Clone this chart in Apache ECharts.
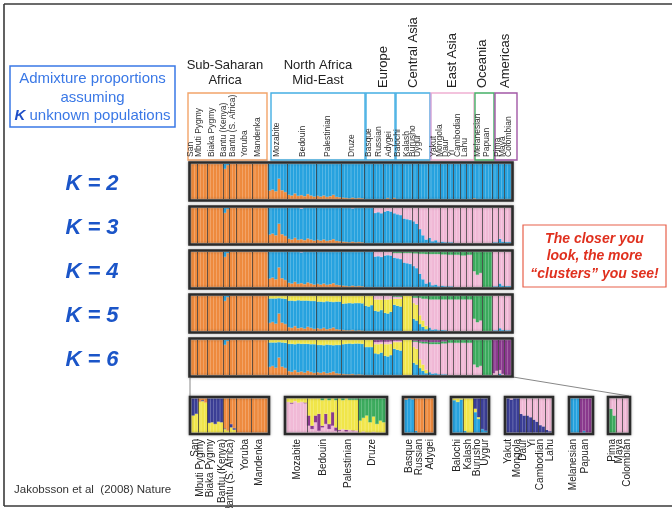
<!DOCTYPE html>
<html>
<head>
<meta charset="utf-8">
<script src="https://cdn.jsdelivr.net/npm/echarts@6/dist/echarts.min.js"></script>
<style>html,body{margin:0;padding:0;background:#fff}#chart{width:672px;height:508px}</style>
</head>
<body>
<div id="chart"></div>
<script>
var orange='#EE8A3E', blue='#27A2DF', yellow='#F1E64A', pink='#F1B9D6', green='#3CAB5E', purple='#8A3A8E', navy='#3B3E96';
var FONT = '"Liberation Sans", Arial, sans-serif';

// populations, left to right, and how many bar columns each one gets
var pops = ['San','Mbuti Pygmy','Biaka Pygmy','Bantu (Kenya)','Bantu (S. Africa)','Yoruba','Mandenka',
  'Mozabite','Bedouin','Palestinian','Druze',
  'Basque','Russian','Adygei',
  'Balochi','Kalash','Burusho','Uygur',
  'Yakut','Mongola','Daur','Yi','Cambodian','Lahu',
  'Melanesian','Papuan',
  'Pima','Maya','Colombian'];
var popCols = [2,3,5,2,2,5,5, 6,9,8,7, 3,3,3, 3,3,2,3, 4,2,2,2,2,2, 3,3, 2,2,2];
var regions = ['Sub-Saharan\nAfrica','North Africa\nMid-East','Europe','Central Asia','East Asia','Oceania','Americas'];
var kLabels = ['K = 2','K = 3','K = 4','K = 5','K = 6'];

// admixture proportions, run-length: [columns, share of each cluster...]
// K=2: orange, blue
var k2 = [
  [10,1,0],
  [1,.86,.14],[1,.97,.03],
  [12,1,0],
  [1,.24,.76],[1,.27,.73],[1,.22,.78],[1,.58,.42],[1,.25,.75],[1,.2,.8],
  [1,.12,.88],[1,.1,.9],[1,.16,.84],[1,.09,.91],[1,.11,.89],[1,.08,.92],[1,.14,.86],[1,.1,.9],[1,.07,.93],
  [1,.09,.91],[1,.07,.93],[1,.1,.9],[1,.06,.94],[1,.08,.92],[1,.12,.88],[1,.06,.94],[1,.05,.95],
  [1,.04,.96],[1,.03,.97],[1,.02,.98],[1,.04,.96],[1,.02,.98],[1,.03,.97],[1,.02,.98],
  [7,0,1],[1,.03,.97],[1,0,1],
  [1,.03,.97],[10,0,1],
  [14,0,1],
  [1,.02,.98],[5,0,1],
  [6,0,1]
];
// K=3: orange, blue, pink
var k3 = [
  [10,1,0,0],
  [1,.86,.14,0],[1,.97,.03,0],
  [12,1,0,0],
  [1,.24,.76,0],[1,.27,.73,0],[1,.22,.78,0],[1,.55,.45,0],[1,.25,.75,0],[1,.2,.8,0],
  [1,.12,.88,0],[1,.1,.9,0],[1,.15,.85,0],[1,.09,.91,0],[1,.11,.87,.02],[1,.08,.92,0],[1,.13,.87,0],[1,.1,.9,0],[1,.07,.93,0],
  [1,.09,.91,0],[1,.07,.93,0],[1,.1,.9,0],[1,.06,.94,0],[1,.08,.92,0],[1,.11,.89,0],[1,.06,.94,0],[1,.05,.95,0],
  [1,.04,.96,0],[1,.03,.97,0],[1,.02,.98,0],[1,.04,.95,.01],[1,.02,.98,0],[1,.03,.97,0],[1,.02,.98,0],
  [3,0,1,0],
  [1,0,.86,.14],[1,0,.88,.12],[1,0,.85,.15],
  [1,0,.9,.1],[1,0,.92,.08],[1,0,.9,.1],
  [1,0,.85,.15],[1,0,.82,.18],[1,0,.8,.2],
  [1,0,.7,.3],[1,0,.68,.32],[1,0,.66,.34],
  [1,0,.62,.38],[1,0,.55,.45],
  [1,0,.4,.6],[1,0,.22,.78],[1,0,.1,.9],
  [1,0,.15,.85],[1,0,.05,.95],[1,0,.08,.92],[1,0,.02,.98],
  [1,0,.04,.96],[1,0,.02,.98],
  [2,0,.02,.98],[6,0,0,1],
  [6,0,0,1],
  [2,0,.02,.98],[1,0,.12,.88],[1,0,.04,.96],[2,0,.03,.97]
];
// K=4: orange, blue, pink, green
var k4 = [
  [10,1,0,0,0],
  [1,.86,.14,0,0],[1,.97,.03,0,0],
  [12,1,0,0,0],
  [1,.24,.76,0,0],[1,.27,.73,0,0],[1,.22,.78,0,0],[1,.56,.44,0,0],[1,.25,.75,0,0],[1,.2,.8,0,0],
  [1,.12,.88,0,0],[1,.1,.9,0,0],[1,.15,.85,0,0],[1,.09,.91,0,0],[1,.11,.88,.01,0],[1,.08,.92,0,0],[1,.13,.87,0,0],[1,.1,.9,0,0],[1,.07,.93,0,0],
  [1,.09,.91,0,0],[1,.07,.93,0,0],[1,.1,.9,0,0],[1,.06,.94,0,0],[1,.08,.92,0,0],[1,.11,.89,0,0],[1,.06,.94,0,0],[1,.05,.95,0,0],
  [1,.04,.96,0,0],[1,.03,.97,0,0],[1,.02,.98,0,0],[1,.04,.96,0,0],[1,.02,.98,0,0],[1,.03,.97,0,0],[1,.02,.98,0,0],
  [3,0,1,0,0],
  [1,0,.87,.13,0],[1,0,.88,.12,0],[1,0,.86,.14,0],
  [1,0,.9,.1,0],[1,0,.91,.09,0],[1,0,.9,.1,0],
  [1,0,.84,.13,.03],[1,0,.82,.15,.03],[1,0,.8,.17,.03],
  [1,0,.7,.27,.03],[1,0,.68,.29,.03],[1,0,.66,.31,.03],
  [1,0,.6,.36,.04],[1,0,.54,.42,.04],
  [1,0,.38,.57,.05],[1,0,.22,.73,.05],[1,0,.1,.84,.06],
  [1,0,.14,.8,.06],[1,0,.05,.89,.06],[1,0,.07,.87,.06],[1,0,.02,.92,.06],
  [1,0,.04,.89,.07],[1,0,.02,.91,.07],
  [2,0,.02,.9,.08],
  [2,0,0,.92,.08],
  [2,0,0,.9,.1],
  [2,0,0,.92,.08],
  [1,0,0,.45,.55],[1,0,0,.35,.65],[1,0,0,.4,.6],
  [3,0,0,0,1],
  [2,0,.02,.98,0],[1,0,.1,.9,0],[1,0,.04,.96,0],[2,0,.03,.97,0]
];
// K=5: orange, blue, yellow, pink, green
var k5 = [
  [10,1,0,0,0,0],
  [1,.86,.14,0,0,0],[1,.97,.03,0,0,0],
  [12,1,0,0,0,0],
  [1,.23,.7,.07,0,0],[1,.26,.67,.07,0,0],[1,.21,.72,.07,0,0],[1,.5,.44,.06,0,0],[1,.24,.69,.07,0,0],[1,.2,.72,.08,0,0],
  [1,.11,.76,.13,0,0],[1,.09,.78,.13,0,0],[1,.14,.72,.14,0,0],[1,.08,.8,.12,0,0],[1,.1,.77,.13,0,0],[1,.07,.8,.13,0,0],[1,.12,.75,.13,0,0],[1,.09,.77,.14,0,0],[1,.06,.8,.14,0,0],
  [1,.08,.76,.16,0,0],[1,.06,.78,.16,0,0],[1,.09,.74,.17,0,0],[1,.05,.8,.15,0,0],[1,.07,.77,.16,0,0],[1,.1,.73,.17,0,0],[1,.05,.79,.16,0,0],[1,.04,.8,.16,0,0],
  [1,.03,.75,.22,0,0],[1,.02,.77,.21,0,0],[1,.02,.78,.2,0,0],[1,.03,.76,.21,0,0],[1,.01,.79,.2,0,0],[1,.02,.78,.2,0,0],[1,.01,.78,.21,0,0],
  [1,0,.72,.28,0,0],[1,0,.7,.3,0,0],[1,0,.74,.26,0,0],
  [1,0,.58,.32,.1,0],[1,0,.56,.34,.1,0],[1,0,.6,.3,.1,0],
  [1,0,.52,.38,.1,0],[1,0,.5,.4,.1,0],[1,0,.55,.36,.09,0],
  [1,0,.75,.17,.06,.02],[1,0,.72,.2,.06,.02],[1,0,.7,.22,.06,.02],
  [3,0,0,1,0,0],
  [1,0,.35,.45,.15,.05],[1,0,.3,.45,.2,.05],
  [1,0,.2,.25,.5,.05],[1,0,.12,.18,.62,.08],[1,0,.05,.1,.77,.08],
  [1,0,.1,0,.8,.1],[1,0,.04,0,.86,.1],[1,0,.05,0,.85,.1],[1,0,.02,0,.88,.1],
  [1,0,.03,0,.87,.1],[1,0,.02,0,.88,.1],
  [8,0,0,0,.9,.1],
  [1,0,0,0,.35,.65],[1,0,0,0,.25,.75],[1,0,0,0,.3,.7],
  [3,0,0,0,0,1],
  [2,0,.02,0,.98,0],[1,0,.08,0,.92,0],[1,0,.03,0,.97,0],[2,0,.02,0,.98,0]
];
// K=6: orange, blue, yellow, pink, green, purple
var k6 = [
  [10,1,0,0,0,0,0],
  [1,.86,.14,0,0,0,0],[1,.97,.03,0,0,0,0],
  [12,1,0,0,0,0,0],
  [1,.23,.7,.07,0,0,0],[1,.26,.67,.07,0,0,0],[1,.21,.72,.07,0,0,0],[1,.5,.44,.06,0,0,0],[1,.24,.69,.07,0,0,0],[1,.2,.72,.08,0,0,0],
  [1,.11,.78,.11,0,0,0],[1,.09,.8,.11,0,0,0],[1,.14,.74,.12,0,0,0],[1,.08,.82,.1,0,0,0],[1,.1,.79,.11,0,0,0],[1,.07,.82,.11,0,0,0],[1,.12,.77,.11,0,0,0],[1,.09,.79,.12,0,0,0],[1,.06,.82,.12,0,0,0],
  [1,.08,.78,.14,0,0,0],[1,.06,.8,.14,0,0,0],[1,.09,.76,.15,0,0,0],[1,.05,.82,.13,0,0,0],[1,.07,.79,.14,0,0,0],[1,.1,.75,.15,0,0,0],[1,.05,.81,.14,0,0,0],[1,.04,.82,.14,0,0,0],
  [1,.03,.85,.12,0,0,0],[1,.02,.87,.11,0,0,0],[1,.02,.88,.1,0,0,0],[1,.03,.86,.11,0,0,0],[1,.01,.89,.1,0,0,0],[1,.02,.88,.1,0,0,0],[1,.01,.88,.11,0,0,0],
  [3,0,.8,.2,0,0,0],
  [1,0,.62,.26,.06,0,.06],[1,0,.6,.28,.06,0,.06],[1,0,.64,.25,.06,0,.05],
  [1,0,.55,.33,.07,0,.05],[1,0,.53,.35,.07,0,.05],[1,0,.57,.32,.07,0,.04],
  [1,0,.75,.19,.04,0,.02],[1,0,.72,.22,.04,0,.02],[1,0,.7,.24,.04,0,.02],
  [3,0,0,1,0,0,0],
  [1,0,.35,.45,.15,.03,.02],[1,0,.3,.45,.2,.03,.02],
  [1,0,.2,.25,.47,.04,.04],[1,0,.12,.18,.6,.05,.05],[1,0,.05,.1,.75,.05,.05],
  [1,0,.08,0,.8,.06,.06],[1,0,.04,0,.84,.06,.06],[1,0,.05,0,.83,.06,.06],[1,0,.02,0,.86,.06,.06],
  [2,0,.02,0,.88,.06,.04],
  [8,0,0,0,.92,.08,0],
  [1,0,0,0,.3,.7,0],[1,0,0,0,.22,.78,0],[1,0,0,0,.26,.74,0],
  [3,0,0,0,0,1,0],
  [1,0,0,0,.05,0,.95],[1,0,0,0,.12,0,.88],[1,0,.04,0,.1,0,.86],[1,0,0,0,.03,0,.97],[2,0,0,0,0,0,1]
];

// close-up runs of the separate analyses
var afrNames = ['San','Mbuti Pygmy','Biaka Pygmy','Bantu (Kenya)','Bantu (S. Africa)','Yoruba','Mandenka'];
var afrCols = [2,3,5,2,2,5,5];
var afrSub = [ // yellow, navy, orange
  [1,.5,.5,0],[1,.55,.45,0],
  [1,.9,0,.1],[1,.92,.03,.05],[1,.88,0,.12],
  [1,.28,.72,0],[1,.3,.7,0],[1,.25,.75,0],[1,.32,.68,0],[1,.3,.7,0],
  [1,.1,.02,.88],[1,.05,0,.95],
  [1,.15,.1,.75],[1,.08,.05,.87],
  [10,0,0,1]
];
var meNames = ['Mozabite','Bedouin','Palestinian','Druze'];
var meCols = [6,9,6,8];
var meSub = [ // pink, purple, yellow, green
  [1,.9,0,.1,0],[1,.85,.03,.12,0],[1,.92,0,.08,0],[1,.88,0,.12,0],[1,.9,0,.1,0],[1,.86,.02,.12,0],
  [1,.2,.3,.5,0],[1,.1,.1,.8,0],[1,.3,.2,.5,0],[1,.05,.5,.45,0],[1,.15,.05,.75,.05],[1,.25,.3,.45,0],[1,.1,.15,.7,.05],[1,.2,.4,.4,0],[1,.05,.1,.8,.05],
  [1,.05,.03,.92,0],[1,.1,0,.85,.05],[1,.03,.05,.92,0],[1,.08,0,.88,.04],[1,.04,.02,.9,.04],[1,.06,0,.9,.04],
  [1,0,0,.35,.65],[1,.03,0,.4,.57],[1,0,0,.5,.5],[1,0,0,.3,.7],[1,.02,0,.45,.53],[1,0,0,.25,.75],[1,0,0,.35,.65],[1,0,0,.3,.7]
];
var euNames = ['Basque','Russian','Adygei'];
var euCols = [3,3,3];
var euSub = [ // blue, orange
  [1,.97,.03],[1,1,0],[1,.98,.02],
  [1,.05,.95],[5,0,1]
];
var caNames = ['Balochi','Kalash','Burusho','Uygur'];
var caCols = [3,3,2,2];
var caSub = [ // blue, yellow, navy
  [1,.95,.05,0],[1,.9,.1,0],[1,.97,.03,0],
  [1,.05,.95,0],[2,0,1,0],
  [1,.6,.1,.3],[1,.4,.05,.55],
  [1,.1,0,.9],[1,.05,0,.95]
];
var eaNames = ['Yakut','Mongola','Daur','Yi','Cambodian','Lahu'];
var eaCols = [4,2,2,2,2,2];
var eaSub = [ // navy, pink
  [1,1,0],[1,.97,.03],[2,1,0],
  [1,.55,.45],[1,.5,.5],
  [1,.5,.5],[1,.45,.55],
  [1,.38,.62],[1,.32,.68],
  [1,.22,.78],[1,.18,.82],
  [1,.08,.92],[1,.04,.96]
];
var ocNames = ['Melanesian','Papuan'];
var ocCols = [3,4];
var ocSub = [ // blue, purple
  [3,1,0],[1,0,1],[1,.05,.95],[2,0,1]
];
var amNames = ['Pima','Maya','Colombian'];
var amCols = [2,2,2];
var amSub = [ // green, pink
  [1,.7,.3],[1,.5,.5],[4,0,1]
];

function expand(rle, k) {
  var out = [];
  for (var j = 0; j < k; j++) out.push([]);
  rle.forEach(function (r) {
    for (var i = 0; i < r[0]; i++)
      for (var j = 0; j < k; j++) out[j].push(r[j + 1] === 0 ? '-' : r[j + 1]);
  });
  return out;
}

var grids = [], xAxes = [], yAxes = [], series = [], graphics = [];
function addPanel(rect, rle, colors, cols) {
  var gi = grids.length;
  grids.push({left: rect[0], top: rect[1], width: rect[2], height: rect[3]});
  var data = expand(rle, colors.length);
  var n = data[0].length;
  var cats = [];
  for (var i = 0; i < n; i++) cats.push('c' + i);
  xAxes.push({gridIndex: gi, type: 'category', data: cats, show: false});
  xAxes.push({gridIndex: gi, type: 'value', min: 0, max: n, show: false});
  yAxes.push({gridIndex: gi, type: 'value', min: 0, max: 1, show: false});
  colors.forEach(function (c, j) {
    series.push({type: 'bar', xAxisIndex: 2 * gi, yAxisIndex: gi, stack: 's' + gi,
      barWidth: '100%', data: data[j], silent: true,
      itemStyle: {color: c, borderColor: c, borderWidth: 0.4}});
  });
  var bounds = [], acc = 0;
  cols.slice(0, -1).forEach(function (c) { acc += c; bounds.push({xAxis: acc}); });
  series.push({type: 'scatter', xAxisIndex: 2 * gi + 1, yAxisIndex: gi, data: [[0, -1]], symbolSize: 0,
    markLine: {silent: true, symbol: 'none', label: {show: false},
      lineStyle: {color: '#3a3a3a', width: 0.9, type: 'solid', opacity: 0.85}, data: bounds}});
  graphics.push({type: 'rect', z: 10, shape: {x: rect[0] - 1.5, y: rect[1] - 1.5, width: rect[2] + 3, height: rect[3] + 3},
    style: {fill: null, stroke: '#2b2b2b', lineWidth: 2.6, shadowBlur: 3, shadowColor: 'rgba(0,0,0,0.35)'}});
}

// the five K panels
var topY = [164, 208, 252, 296, 340];
var kData = [k2, k3, k4, k5, k6];
var kColors = [[orange, blue], [orange, blue, pink], [orange, blue, pink, green],
  [orange, blue, yellow, pink, green], [orange, blue, yellow, pink, green, purple]];
kData.forEach(function (d, i) {
  addPanel([191, topY[i], 320, 35], d, kColors[i], popCols);
  graphics.push({type: 'text', x: 92, y: topY[i] + 20, style: {text: kLabels[i], fill: '#1B55C8',
    font: 'italic bold 22px ' + FONT, textAlign: 'center', textVerticalAlign: 'middle'}});
});

// close-up panels
var subs = [
  {x: 191.5, w: 76, d: afrSub, c: [yellow, navy, orange], cols: afrCols, names: afrNames, lx: [195, 200, 210, 222, 230, 245, 259]},
  {x: 286.5, w: 99, d: meSub, c: [pink, purple, yellow, green], cols: meCols, names: meNames, lx: [297, 323, 348, 372]},
  {x: 404.5, w: 29, d: euSub, c: [blue, orange], cols: euCols, names: euNames, lx: [409, 419, 430]},
  {x: 452.5, w: 35, d: caSub, c: [blue, yellow, navy], cols: caCols, names: caNames, lx: [457, 468, 477, 485]},
  {x: 506.5, w: 45, d: eaSub, c: [navy, pink], cols: eaCols, names: eaNames, lx: [508, 517, 523, 532, 540, 550]},
  {x: 570.5, w: 21, d: ocSub, c: [blue, purple], cols: ocCols, names: ocNames, lx: [573, 585]},
  {x: 609.5, w: 19, d: amSub, c: [green, pink], cols: amCols, names: amNames, lx: [612, 619, 627]}
];
subs.forEach(function (s) {
  addPanel([s.x, 398.5, s.w, 34], s.d, s.c, s.cols);
  s.names.forEach(function (nm, j) {
    graphics.push({type: 'text', x: s.lx[j], y: 439, rotation: Math.PI / 2,
      style: {text: nm, fill: '#222', font: '10px ' + FONT, textAlign: 'right', textVerticalAlign: 'middle'}});
  });
});

// header: region brackets and population names
var brackets = [
  [188, 267, '#F2A469'], [271, 365, '#44AEE3'], [366, 395, '#44AEE3'], [396, 430, '#44AEE3'],
  [431, 474, '#F0B0D2'], [475, 494, '#46B067'], [495, 517, '#A258A6']
];
brackets.forEach(function (b) {
  graphics.push({type: 'rect', shape: {x: b[0], y: 93, width: b[1] - b[0], height: 67},
    style: {fill: null, stroke: b[2], lineWidth: 1.4}});
});
graphics.push({type: 'line', shape: {x1: 430.5, y1: 93, x2: 430.5, y2: 160}, style: {stroke: '#B7A9E0', lineWidth: 1.6}});
var headX = [191, 199, 212, 224, 233, 245, 258, 277, 303, 328, 352, 369, 379, 389, 398, 407, 413, 418,
  434, 440, 446, 452, 458, 465, 478, 487, 498, 503, 509];
pops.forEach(function (p, i) {
  graphics.push({type: 'text', x: headX[i], y: 157, rotation: Math.PI / 2,
    style: {text: p, fill: '#333', font: '8.5px ' + FONT, textAlign: 'left', textVerticalAlign: 'middle'}});
});
graphics.push({type: 'text', x: 225, y: 73, style: {text: regions[0], fill: '#222', font: '13px ' + FONT,
  textAlign: 'center', textVerticalAlign: 'middle', lineHeight: 15}});
graphics.push({type: 'text', x: 318, y: 73, style: {text: regions[1], fill: '#222', font: '13px ' + FONT,
  textAlign: 'center', textVerticalAlign: 'middle', lineHeight: 15}});
[383, 413, 452, 482, 505].forEach(function (x, i) {
  graphics.push({type: 'text', x: x, y: 88, rotation: Math.PI / 2,
    style: {text: regions[i + 2], fill: '#222', font: '13px ' + FONT, textAlign: 'left', textVerticalAlign: 'middle'}});
});

// notes, frame and zoom lines
graphics.push({type: 'rect', shape: {x: 10, y: 66, width: 165, height: 61}, style: {fill: null, stroke: '#3A78E6', lineWidth: 1.5}});
graphics.push({type: 'text', x: 92.5, y: 79, style: {text: 'Admixture proportions', fill: '#3A78E6', font: '15px ' + FONT, textAlign: 'center', textVerticalAlign: 'middle'}});
graphics.push({type: 'text', x: 92.5, y: 97.5, style: {text: 'assuming', fill: '#3A78E6', font: '15px ' + FONT, textAlign: 'center', textVerticalAlign: 'middle'}});
graphics.push({type: 'text', x: 92.5, y: 116, style: {text: '{k|K} unknown populations', fill: '#3A78E6', font: '15px ' + FONT,
  textAlign: 'center', textVerticalAlign: 'middle',
  rich: {k: {fontSize: 15, fontWeight: 'bold', fontStyle: 'italic', fontFamily: FONT, fill: '#1F4FC8'}}}});
graphics.push({type: 'rect', shape: {x: 523, y: 225, width: 143, height: 62}, style: {fill: null, stroke: '#E8604A', lineWidth: 1.2}});
['The closer you', 'look, the more', '\u201Cclusters\u201D you see!'].forEach(function (t, i) {
  graphics.push({type: 'text', x: 594.5, y: 239 + i * 17.5, style: {text: t, fill: '#E0301E', font: 'italic bold 14px ' + FONT,
    textAlign: 'center', textVerticalAlign: 'middle'}});
});
graphics.push({type: 'text', x: 14, y: 490, style: {text: 'Jakobsson et al  (2008) Nature', fill: '#333', font: '11.5px ' + FONT,
  textAlign: 'left', textVerticalAlign: 'middle'}});
[[4, 4, 672, 4], [4, 4, 4, 506], [4, 506, 672, 506]].forEach(function (l) {
  graphics.push({type: 'line', shape: {x1: l[0], y1: l[1], x2: l[2], y2: l[3]}, style: {stroke: '#3a3a3a', lineWidth: 1.6}});
});
graphics.push({type: 'line', shape: {x1: 190, y1: 378, x2: 190, y2: 397}, style: {stroke: '#888', lineWidth: 1}});
graphics.push({type: 'line', shape: {x1: 513, y1: 377, x2: 629, y2: 396}, style: {stroke: '#888', lineWidth: 1}});

var myChart = echarts.init(document.getElementById('chart'));
var option = {
  animation: false,
  backgroundColor: '#fff',
  grid: grids,
  xAxis: xAxes,
  yAxis: yAxes,
  series: series,
  graphic: graphics
};
myChart.setOption(option, true);
</script>
</body>
</html>
